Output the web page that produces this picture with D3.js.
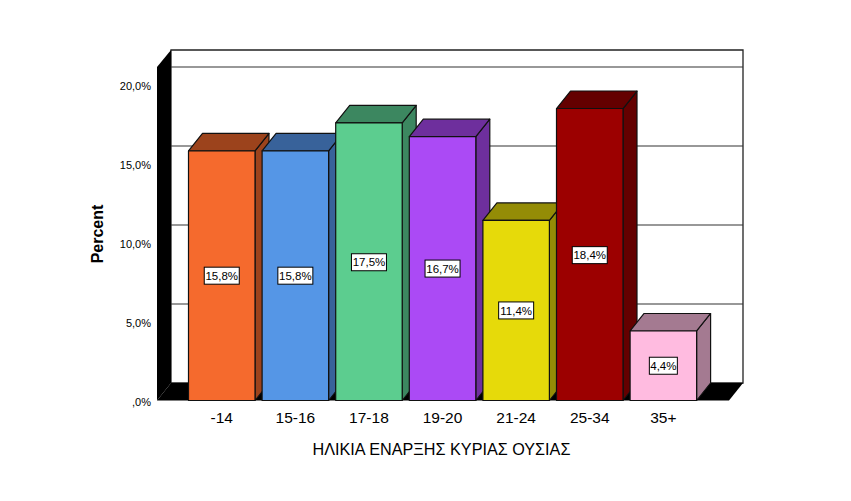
<!DOCTYPE html>
<html><head><meta charset="utf-8">
<script src="https://d3js.org/d3.v7.min.js"></script>
<style>html,body{margin:0;padding:0;background:#fff}svg{display:block}text{font-family:"Liberation Sans",Arial,sans-serif;fill:#000}</style>
</head><body><svg id="c" width="851" height="501"></svg>
<script>
const categories=["-14","15-16","17-18","19-20","21-24","25-34","35+"];
const values=[15.8,15.8,17.57,16.7,11.4,18.48,4.4];
const labels=["15,8%","15,8%","17,5%","16,7%","11,4%","18,4%","4,4%"];
const frontColors=["#f56a2d","#5596e6","#5ccd8f","#ab4af5","#e6da0a","#9c0000","#ffbbe0"];
const darkColors=["#9c431c","#38629a","#3c8760","#6e2f9d","#948c06","#640000","#a47a91"];
const tickValues=[0,5,10,15,20];
const tickLabels=[",0%","5,0%","10,0%","15,0%","20,0%"];
const axisTitle="Percent";
const categoryTitle="ΗΛΙΚΙΑ ΕΝΑΡΞΗΣ ΚΥΡΙΑΣ ΟΥΣΙΑΣ";

const svg=d3.select("#c");
const dx=14,dy=-17.5;
const y=d3.scaleLinear().domain([0,20]).range([400.5,84.5]);
const x=d3.scaleBand().domain(categories).range([184.95,700.15]).paddingInner(0.0965).paddingOuter(0.04825);
const left=157,right=729,base=y(0),topY=67;
const line=d3.line();

// back wall, side wall, floor
svg.append("path").attr("d",line([[left+dx,base+dy],[left+dx,50],[right+dx,50],[right+dx,base+dy]])+"Z")
  .attr("fill","#fff").attr("stroke","#222").attr("stroke-width",1.3);
svg.append("path").attr("d",line([[left,base],[left,topY],[left+dx,50],[left+dx,base+dy]])+"Z").attr("fill","#000");
svg.append("path").attr("d",line([[left,base],[left+dx,base+dy],[right+dx,base+dy],[right,base]])+"Z").attr("fill","#000");
// gridlines
svg.append("g").selectAll("line").data(tickValues.filter(d=>d>0)).join("line")
  .attr("x1",left+dx).attr("x2",right+dx).attr("y1",d=>y(d)+dy).attr("y2",d=>y(d)+dy)
  .attr("stroke","#333").attr("stroke-width",1.2);
// axis
const axis=d3.axisLeft(y).tickValues(tickValues).tickSize(0).tickFormat((d,i)=>tickLabels[i]);
const ga=svg.append("g").attr("transform","translate(154,1.3)").call(axis);
ga.select(".domain").remove();
ga.selectAll("text").attr("font-size",11).attr("x",-3).style("font-family",'"Liberation Sans",Arial,sans-serif');

// bars
const bars=svg.append("g").selectAll("g").data(categories).join("g");
bars.each(function(c,i){
  const g=d3.select(this),x0=x(c),x1=x0+x.bandwidth(),yt=y(values[i]);
  const st={stroke:"#111","stroke-width":1.2,"stroke-linejoin":"round"};
  const add=(pts,fill)=>{const p=g.append("path").attr("d",line(pts)+"Z").attr("fill",fill);for(const k in st)p.attr(k,st[k]);};
  add([[x1,base],[x1+dx,base+dy],[x1+dx,yt+dy],[x1,yt]],darkColors[i]);
  add([[x0,yt],[x0+dx,yt+dy],[x1+dx,yt+dy],[x1,yt]],darkColors[i]);
  add([[x0,base],[x0,yt],[x1,yt],[x1,base]],frontColors[i]);
  const cx=(x0+x1)/2,cy=(y(parseFloat(labels[i].replace(",",".")))+base)/2;
  const w=labels[i].length>4?35:28;
  g.append("rect").attr("x",cx-w/2).attr("y",cy-8.5).attr("width",w).attr("height",17).attr("fill","#fff").attr("stroke","#000").attr("stroke-width",1);
  g.append("text").attr("x",cx).attr("y",cy+4.2).attr("text-anchor","middle").attr("font-size",11.5).text(labels[i]);
});
// category labels
const gx=svg.append("g").attr("transform","translate(0,"+(base+8)+")").call(d3.axisBottom(x).tickSize(0));
gx.select(".domain").remove();
gx.selectAll("text").attr("font-size",15.5).style("font-family",'"Liberation Sans",Arial,sans-serif');
// titles
svg.append("text").attr("x",441.5).attr("y",454.5).attr("text-anchor","middle").attr("font-size",16.2).text(categoryTitle);
svg.append("text").attr("transform","translate(103,234) rotate(-90)").attr("text-anchor","middle").attr("font-size",16).attr("font-weight","bold").text(axisTitle);
</script></body></html>
